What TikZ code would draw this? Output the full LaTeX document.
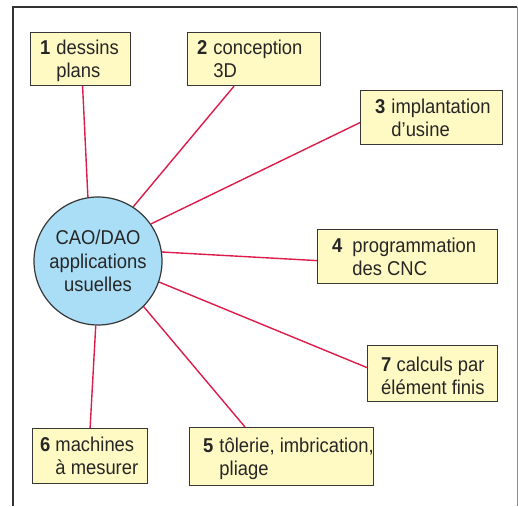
\documentclass[tikz,border=0pt]{standalone}
\usepackage{fontspec}
\setmainfont{Liberation Sans}[FakeStretch=0.92]
\usetikzlibrary{calc}
\definecolor{boxfill}{RGB}{255,249,196}
\definecolor{boxline}{RGB}{55,55,55}
\definecolor{circfill}{RGB}{170,222,246}
\definecolor{linkcol}{RGB}{222,28,74}
\newcommand{\numtext}[4]{\begin{tabular}{@{}l@{\hspace{#4}}l@{}}\textbf{#1}&#2\\&#3\end{tabular}}
\tikzset{
  box/.style={draw=boxline, line width=1.2pt, fill=boxfill, anchor=north west, inner sep=0pt},
  lbl/.style={anchor=west, inner sep=0pt, align=left, font=\fontsize{20}{23}\selectfont, text=black!85},
  hub/.style={circle, draw=boxline, line width=1.2pt, fill=circfill, minimum size=128pt, inner sep=0pt, align=center, font=\fontsize{20}{23.5}\selectfont, text=black!85},
  link/.style={draw=linkcol, line width=1.4pt},
  frame/.style={draw=black!80, line width=1.8pt}
}
\begin{document}
\begin{tikzpicture}[x=1pt,y=-1pt]
\useasboundingbox (0,0) rectangle (518,506);
\fill[white] (0,0) rectangle (518,506);
\draw[frame] (13,506) -- (13,7) -- (517,7);
\draw[draw=black!45, line width=0.8pt] (517,7) -- (517,506);

\node[hub] (c) at (98,261) {CAO/DAO\\applications\\usuelles};

\node[box, minimum width=100pt, minimum height=53pt] (b1) at (30,32) {};
\node[box, minimum width=133pt, minimum height=53pt] (b2) at (187,32) {};
\node[box, minimum width=142pt, minimum height=54pt] (b3) at (360,90) {};
\node[box, minimum width=180pt, minimum height=54pt] (b4) at (317,229) {};
\node[box, minimum width=130pt, minimum height=56pt] (b7) at (367,345) {};
\node[box, minimum width=115pt, minimum height=55pt] (b6) at (32,428) {};
\node[box, minimum width=184pt, minimum height=58pt] (b5) at (189,427) {};

\node[lbl] (t1) at ($(b1.west)+(10,2.4)$) {\numtext{1}{dessins}{plans}{6pt}};
\node[lbl] (t2) at ($(b2.west)+(10,2.4)$) {\numtext{2}{conception}{3D}{6pt}};
\node[lbl] (t3) at ($(b3.west)+(15,2.4)$) {\numtext{3}{implantation}{d’usine}{6pt}};
\node[lbl] (t4) at ($(b4.west)+(15,2.4)$) {\numtext{4}{programmation}{des CNC}{10pt}};
\node[lbl] (t7) at ($(b7.west)+(14,2.4)$) {\textbf{7} calculs par\\élément finis};
\node[lbl] (t6) at ($(b6.west)+(8,2.4)$) {\numtext{6}{machines}{à mesurer}{5pt}};
\node[lbl] (t5) at ($(b5.west)+(14,2.4)$) {\numtext{5}{tôlerie, imbrication,}{pliage}{6pt}};

\draw[link] ($(b1.south)+(2,0)$) -- (c.99.8);
\draw[link] ($(b2.south west)+(47,0)$) -- (c.57);
\draw[link] ($(b3.west)+(0,5)$) -- (c.35);
\draw[link] ($(b4.west)+(0,4)$) -- (c.8);
\draw[link] ($(b7.west)+(0,-6)$) -- (c.-19.3);
\draw[link] ($(b5.north west)+(56,0)$) -- (c.-45);
\draw[link] (b6.north) -- (c.-92.7);
\end{tikzpicture}
\end{document}
